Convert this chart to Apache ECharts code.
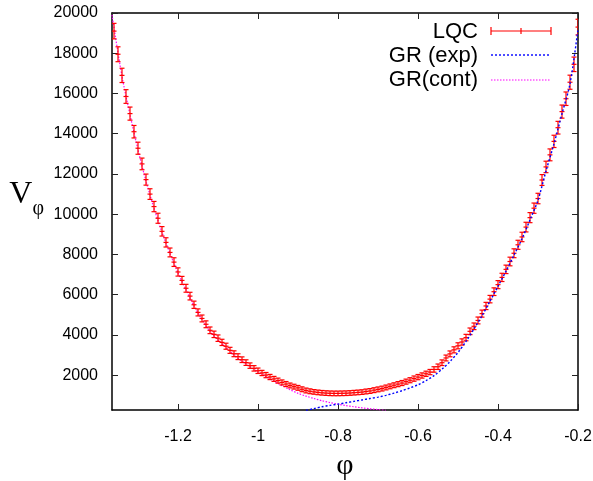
<!DOCTYPE html>
<html><head><meta charset="utf-8">
<script src="https://cdn.jsdelivr.net/npm/echarts@6/dist/echarts.min.js"></script>
<style>html,body{margin:0;padding:0;background:#fff}#c{width:593px;height:481px}</style>
</head><body><div id="c"></div>
<script>
// ---- data ----
const phiLQC = [
-1.36,-1.35,-1.34,-1.33,-1.32,-1.31,-1.30,-1.29,-1.28,-1.27,
-1.26,-1.25,-1.24,-1.23,-1.22,-1.21,-1.20,-1.19,-1.18,-1.17,
-1.16,-1.15,-1.14,-1.13,-1.12,-1.11,-1.10,-1.09,-1.08,-1.07,
-1.06,-1.05,-1.04,-1.03,-1.02,-1.01,-1.00,-0.99,-0.98,-0.97,
-0.96,-0.95,-0.94,-0.93,-0.92,-0.91,-0.90,-0.89,-0.88,-0.87,
-0.86,-0.85,-0.84,-0.83,-0.82,-0.81,-0.80,-0.79,-0.78,-0.77,
-0.76,-0.75,-0.74,-0.73,-0.72,-0.71,-0.70,-0.69,-0.68,-0.67,
-0.66,-0.65,-0.64,-0.63,-0.62,-0.61,-0.60,-0.59,-0.58,-0.57,
-0.56,-0.55,-0.54,-0.53,-0.52,-0.51,-0.50,-0.49,-0.48,-0.47,
-0.46,-0.45,-0.44,-0.43,-0.42,-0.41,-0.40,-0.39,-0.38,-0.37,
-0.36,-0.35,-0.34,-0.33,-0.32,-0.31,-0.30,-0.29,-0.28,-0.27,
-0.26,-0.25,-0.24,-0.23,-0.22,-0.21,-0.20];
const vLQC = [
19100,17950,16900,15850,15000,14100,13280,12500,11720,11000,
10380,9800,9150,8600,8100,7620,7130,6710,6320,5930,
5500,5120,4820,4530,4230,4030,3840,3630,3440,3235,
3065,2920,2770,2625,2475,2340,2220,2110,2005,1910,
1815,1730,1640,1560,1490,1430,1370,1300,1240,1200,
1170,1145,1125,1110,1100,1095,1095,1100,1105,1115,
1130,1145,1160,1190,1215,1255,1295,1335,1390,1445,
1500,1555,1610,1680,1750,1830,1905,1985,2070,2155,
2285,2420,2620,2855,3060,3260,3460,3650,3870,4180,
4430,4720,5060,5440,5780,6150,6500,6860,7260,7650,
8060,8480,8870,9360,9830,10300,10780,11700,12350,12950,
13620,14300,15100,15740,16560,17450,19300];
const errLQC = [
385,370,355,340,325,310,300,290,275,265,
255,250,235,230,220,215,205,200,195,190,
180,175,170,170,165,160,160,155,150,150,
145,145,140,140,135,135,135,130,130,130,
125,125,125,125,120,120,120,120,120,120,
115,115,115,115,115,115,115,115,115,115,
115,115,115,120,120,120,120,120,120,120,
120,125,125,125,125,130,130,130,130,130,
135,135,140,145,145,150,150,155,160,165,
165,170,175,180,185,190,200,205,210,215,
220,225,235,240,250,255,260,270,285,295,
305,315,325,335,350,360,390];

const phiExp = [
-0.88,-0.86,-0.84,-0.82,-0.80,-0.78,-0.76,-0.74,-0.72,-0.70,
-0.68,-0.66,-0.64,-0.62,-0.60,-0.58,-0.56,-0.54,-0.52,-0.50,
-0.48,-0.46,-0.44,-0.42,-0.40,-0.38,-0.36,-0.34,-0.32,-0.30,
-0.28,-0.26,-0.24,-0.22,-0.20];
const vExp = [
250,340,430,500,560,630,700,770,840,910,
1000,1110,1230,1370,1520,1730,1980,2300,2680,3130,
3680,4300,4950,5680,6420,7170,7970,8780,9720,10700,
12150,13500,15000,16480,19200];

const phiCont = [
-1.365,-1.34,-1.32,-1.30,-1.28,-1.26,-1.24,-1.22,-1.20,-1.18,
-1.16,-1.14,-1.12,-1.10,-1.08,-1.06,-1.04,-1.02,-1.00,-0.98,
-0.96,-0.94,-0.92,-0.90,-0.88,-0.86,-0.84,-0.82,-0.80,-0.78,
-0.76,-0.74,-0.72,-0.70,-0.68];
const vCont = [
19900,16850,14950,13200,11650,10300,9100,8050,7080,6250,
5450,4760,4180,3760,3380,3000,2700,2420,2160,1930,
1700,1480,1280,1100,960,840,730,640,560,490,
430,380,330,290,250];

const xTicks = [-1.2,-1,-0.8,-0.6,-0.4,-0.2];
const yTicks = [2000,4000,6000,8000,10000,12000,14000,16000,18000,20000];
const seriesNames = ['LQC','GR (exp)','GR(cont)'];

// ---- chart ----
const chart = echarts.init(document.getElementById('c'), null, {renderer:'canvas'});
const SANS = 'Liberation Sans, Arial, Helvetica, sans-serif';
const SERIF = 'Liberation Serif, Times New Roman, serif';
const xMin = -1.365, xMax = -0.2, yMin = 270, yMax = 20000;

function xAxisCfg(pos, labels){
  return {
    type:'value', position:pos, min:xMin, max:xMax,
    axisLine:{show:true, onZero:false, lineStyle:{color:'#000', width:1.5}},
    axisTick:{show:true, inside:true, length:6, customValues:xTicks, lineStyle:{color:'#222', width:1}},
    axisLabel:{show:labels, customValues:xTicks, margin:19, color:'#000', fontSize:16, fontFamily:SANS,
      formatter:v=>String(v)},
    splitLine:{show:false}
  };
}
function yAxisCfg(pos, labels){
  return {
    type:'value', position:pos, min:yMin, max:yMax,
    axisLine:{show:true, onZero:false, lineStyle:{color:'#000', width:1.5}},
    axisTick:{show:true, inside:true, length:6, customValues:yTicks, lineStyle:{color:'#222', width:1}},
    axisLabel:{show:labels, customValues:yTicks, margin:14, color:'#000', fontSize:16, fontFamily:SANS,
      formatter:v=>String(v)},
    splitLine:{show:false}
  };
}

const xBottom = xAxisCfg('bottom', true);
xBottom.name = 'φ';
xBottom.nameLocation = 'middle';
xBottom.nameGap = 41;
xBottom.nameTextStyle = {fontFamily:SERIF, fontSize:30, color:'#000'};
const xTop = xAxisCfg('top', false);

const yLeft = yAxisCfg('left', true);
yLeft.name = '{v|V}{s|φ}';
yLeft.nameLocation = 'middle';
yLeft.nameRotate = 0;
yLeft.nameGap = 68;
yLeft.nameTextStyle = {
  padding:[0,0,6,0],
  rich:{
    v:{fontFamily:SERIF, fontSize:32, color:'#000', lineHeight:34, verticalAlign:'top'},
    s:{fontFamily:SERIF, fontSize:20, color:'#000', lineHeight:60}
  }
};
const yRight = yAxisCfg('right', false);

const errData = phiLQC.map((p,i)=>[p, vLQC[i], errLQC[i]]);

function renderErr(params, api){
  const x = api.value(0), y = api.value(1), e = api.value(2);
  const c = api.coord([x, y]);
  const hi = api.coord([x, y + e]);
  const lo = api.coord([x, y - e]);
  const cap = 2.5;
  const st = {stroke:'#ff0000', lineWidth:1.2};
  return {type:'group', children:[
    {type:'line', shape:{x1:c[0], y1:hi[1], x2:c[0], y2:lo[1]}, style:st},
    {type:'line', shape:{x1:c[0]-cap, y1:hi[1], x2:c[0]+cap, y2:hi[1]}, style:st},
    {type:'line', shape:{x1:c[0]-cap, y1:lo[1], x2:c[0]+cap, y2:lo[1]}, style:st},
    {type:'line', shape:{x1:c[0]-cap, y1:c[1], x2:c[0]+cap, y2:c[1]}, style:st}
  ]};
}

const legendTextStyle = {fontFamily:SANS, fontSize:22, fill:'#000', textAlign:'right', textVerticalAlign:'middle'};
const lx0 = 491, lx1 = 551;
const option = {
  animation:false,
  backgroundColor:'#fff',
  grid:{left:112, right:15, top:13, bottom:71, containLabel:false, outerBoundsMode:'none'},
  xAxis:[xBottom, xTop],
  yAxis:[yLeft, yRight],
  series:[
    {
      name:seriesNames[2], type:'line', xAxisIndex:0, yAxisIndex:0,
      data:phiCont.map((p,i)=>[p, vCont[i]]), showSymbol:false, symbol:'none', smooth:0.3,
      lineStyle:{color:'#ff00ff', width:1.2, type:[1.5,1.5]}, clip:true, z:1
    },
    {
      name:seriesNames[1], type:'line', xAxisIndex:0, yAxisIndex:0,
      data:phiExp.map((p,i)=>[p, vExp[i]]), showSymbol:false, symbol:'none', smooth:0.3,
      lineStyle:{color:'#0000ff', width:1.4, type:[2,2]}, clip:true, z:3
    },
    {
      name:seriesNames[0], type:'custom', xAxisIndex:0, yAxisIndex:0,
      data:errData, renderItem:renderErr, encode:{x:0, y:1}, clip:true, z:2
    }
  ],
  graphic:[
    {type:'text', x:478, y:32, style:Object.assign({text:seriesNames[0]}, legendTextStyle)},
    {type:'text', x:478, y:56, style:Object.assign({text:seriesNames[1]}, legendTextStyle)},
    {type:'text', x:478, y:80, style:Object.assign({text:seriesNames[2]}, legendTextStyle)},
    {type:'line', shape:{x1:lx0, y1:31, x2:lx1, y2:31}, style:{stroke:'#ff0000', lineWidth:1.2}},
    {type:'line', shape:{x1:lx0, y1:27, x2:lx0, y2:35}, style:{stroke:'#ff0000', lineWidth:1.2}},
    {type:'line', shape:{x1:lx1, y1:27, x2:lx1, y2:35}, style:{stroke:'#ff0000', lineWidth:1.2}},
    {type:'line', shape:{x1:(lx0+lx1)/2, y1:28, x2:(lx0+lx1)/2, y2:34}, style:{stroke:'#ff0000', lineWidth:1.2}},
    {type:'line', shape:{x1:lx0, y1:55, x2:lx1, y2:55}, style:{stroke:'#0000ff', lineWidth:1.4, lineDash:[2,2]}},
    {type:'line', shape:{x1:lx0, y1:80, x2:lx1, y2:80}, style:{stroke:'#ff00ff', lineWidth:1.2, lineDash:[1.5,1.5]}}
  ]
};
chart.setOption(option);
</script>
</body></html>
